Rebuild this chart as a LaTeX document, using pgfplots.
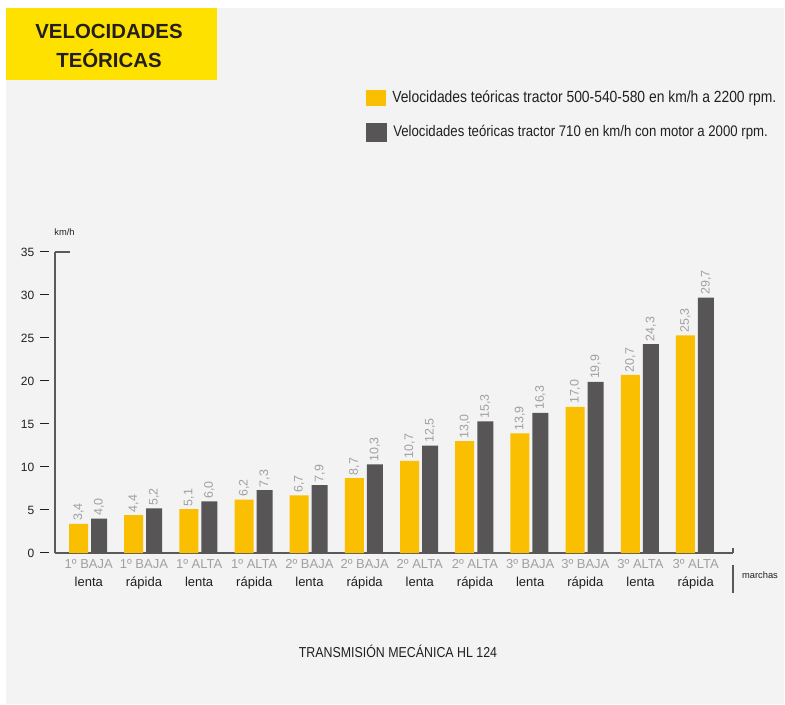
\documentclass[border=0pt]{standalone}
\usepackage{pgfplots}
\pgfplotsset{compat=1.18}
\usepackage{fontspec}
\setmainfont{Liberation Sans}
\newfontfamily\condfont[FakeStretch=0.86]{Liberation Sans}
\definecolor{bggrey}{HTML}{F3F3F3}
\definecolor{titleyellow}{HTML}{FFE100}
\definecolor{baryellow}{HTML}{F9BF00}
\definecolor{bardark}{HTML}{575556}
\definecolor{labelgrey}{HTML}{A0A0A0}
\definecolor{textdark}{HTML}{231F20}
\definecolor{axisgrey}{HTML}{5A5A5A}
\begin{document}
\begin{tikzpicture}
\useasboundingbox (0,0) rectangle (588.75pt,528pt);
\begin{scope}[x=0.75pt,y=-0.75pt,shift={(0pt,528pt)}]
  \fill[bggrey] (6,8) rectangle (784,704);
  \fill[titleyellow] (6,8) rectangle (217,80);
  \node[font=\bfseries\fontsize{15.3}{21.75}\selectfont, text=textdark, align=center] at (109,46) {VELOCIDADES\\TEÓRICAS};
  \fill[baryellow] (366,90) rectangle (386,106);
  \node[anchor=west, inner sep=0pt, font=\condfont\fontsize{12.1}{14}\selectfont, text=textdark] at (392,98.7) {Velocidades teóricas tractor 500-540-580 en km/h a 2200 rpm.};
  \fill[bardark] (366,123) rectangle (387,142);
  \node[anchor=west, inner sep=0pt, font=\condfont\fontsize{11.5}{14}\selectfont, text=textdark] at (393,132.7) {Velocidades teóricas tractor 710 en km/h con motor a 2000 rpm.};
  \node[font=\fontsize{7}{8}\selectfont, text=textdark] at (64.5,231.7) {km/h};
  \node[font=\fontsize{7}{8}\selectfont, text=textdark] at (760,575) {marchas};
  \draw[axisgrey, line width=0.8pt] (733,565) -- (733,593);
  \node[font=\condfont\fontsize{10.8}{13}\selectfont, text=textdark] at (398,651) {TRANSMISIÓN MECÁNICA HL 124};
\end{scope}
\begin{axis}[
  at={(41.25pt,113.25pt)}, anchor=south west,
  scale only axis, width=508.5pt, height=225.75pt,
  xmin=-0.612, xmax=11.676, ymin=0, ymax=35,
  axis x line*=bottom, axis y line*=left,
  axis line style={draw=axisgrey, line width=1.1pt},
  /pgf/number format/assume math mode=true,
  xtick={0,...,11},
  xticklabels={
    {\textcolor{labelgrey}{1º BAJA}\\lenta},
    {\textcolor{labelgrey}{1º BAJA}\\rápida},
    {\textcolor{labelgrey}{1º ALTA}\\lenta},
    {\textcolor{labelgrey}{1º ALTA}\\rápida},
    {\textcolor{labelgrey}{2º BAJA}\\lenta},
    {\textcolor{labelgrey}{2º BAJA}\\rápida},
    {\textcolor{labelgrey}{2º ALTA}\\lenta},
    {\textcolor{labelgrey}{2º ALTA}\\rápida},
    {\textcolor{labelgrey}{3º BAJA}\\lenta},
    {\textcolor{labelgrey}{3º BAJA}\\rápida},
    {\textcolor{labelgrey}{3º ALTA}\\lenta},
    {\textcolor{labelgrey}{3º ALTA}\\rápida}},
  ytick={0,5,...,35},
  major tick length=0pt, tick style={draw=none},
  yticklabel={\pgfmathprintnumber{\tick}\hspace{4.3pt}\rule[3.1pt]{6.5pt}{0.8pt}},
  yticklabel style={anchor=east, inner sep=0pt, xshift=-4.5pt, font=\fontsize{9}{10}\selectfont, text=textdark},
  xticklabel style={anchor=north, inner sep=0pt, yshift=-4.5pt, align=center, font=\fontsize{9.75}{13.5}\selectfont, text=textdark},
  ybar,
  nodes near coords={\pgfmathprintnumber[fixed,fixed zerofill,precision=1,use comma]{\pgfplotspointmeta}},
  every node near coord/.append style={rotate=90, anchor=west, font=\fontsize{9.3}{10}\selectfont, text=labelgrey, inner sep=2pt},
  clip=false,
]
\addplot[fill=baryellow, draw=none, bar width=14.25pt, bar shift=-7.7pt] coordinates {
  (0,3.4) (1,4.4) (2,5.1) (3,6.2) (4,6.7) (5,8.7) (6,10.7) (7,13.0) (8,13.9) (9,17.0) (10,20.7) (11,25.3)};
\addplot[fill=bardark, draw=none, bar width=12pt, bar shift=7.7pt] coordinates {
  (0,4.0) (1,5.2) (2,6.0) (3,7.3) (4,7.9) (5,10.3) (6,12.5) (7,15.3) (8,16.3) (9,19.9) (10,24.3) (11,29.7)};
\draw[axisgrey, line width=1.1pt] (axis cs:-0.612,35) -- ++(11.25pt,0pt);
\draw[axisgrey, line width=0.8pt] (axis cs:11.676,0) -- ++(0pt,3.5pt);
\end{axis}
\end{tikzpicture}
\end{document}
